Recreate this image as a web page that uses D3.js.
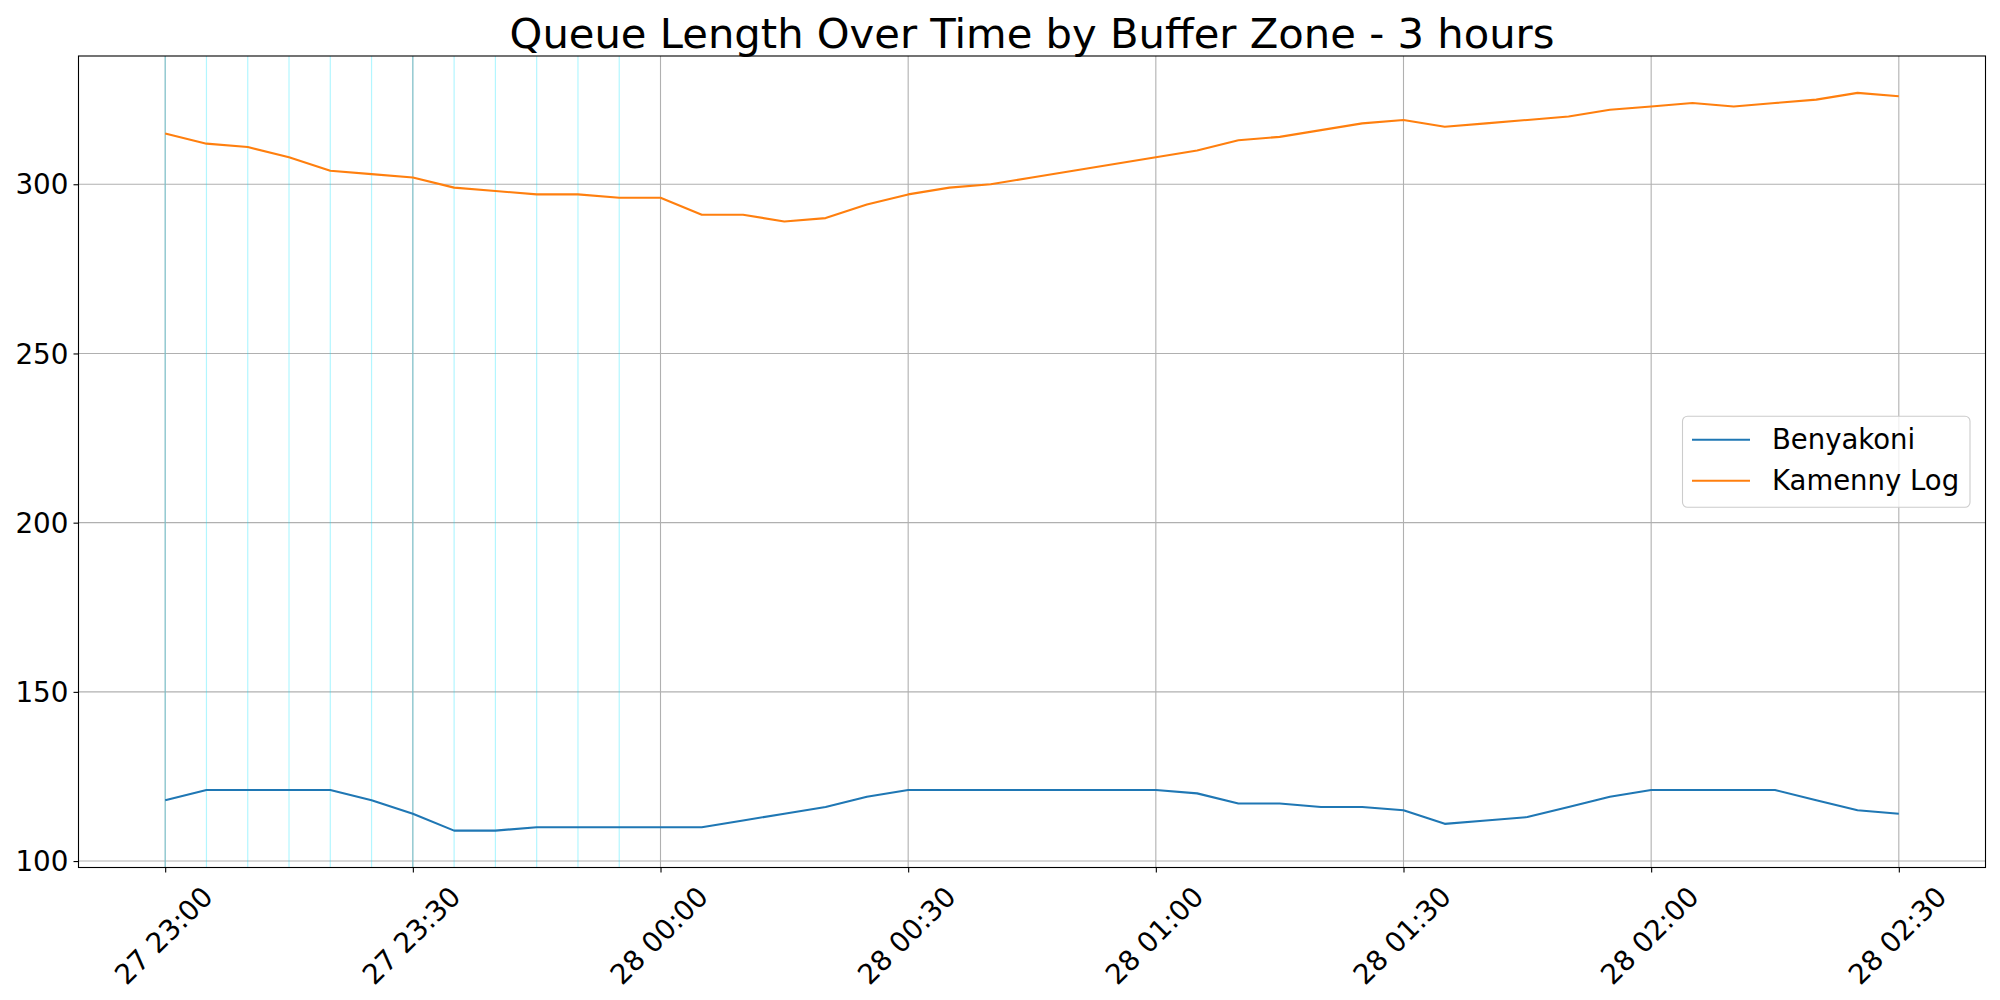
<!DOCTYPE html>
<html>
<head>
<meta charset="utf-8">
<script src="https://cdn.jsdelivr.net/npm/d3@7"></script>
<style>
  body { margin: 0; background: white; }
  text { font-family: "DejaVu Sans", sans-serif; }
</style>
</head>
<body>
<div id="chart"></div>
<script>
// sample times, every 5 minutes
var times = [
    "2024-01-27 23:00", "2024-01-27 23:05", "2024-01-27 23:10", "2024-01-27 23:15",
    "2024-01-27 23:20", "2024-01-27 23:25", "2024-01-27 23:30", "2024-01-27 23:35",
    "2024-01-27 23:40", "2024-01-27 23:45", "2024-01-27 23:50", "2024-01-27 23:55",
    "2024-01-28 00:00", "2024-01-28 00:05", "2024-01-28 00:10", "2024-01-28 00:15",
    "2024-01-28 00:20", "2024-01-28 00:25", "2024-01-28 00:30", "2024-01-28 00:35",
    "2024-01-28 00:40", "2024-01-28 00:45", "2024-01-28 00:50", "2024-01-28 00:55",
    "2024-01-28 01:00", "2024-01-28 01:05", "2024-01-28 01:10", "2024-01-28 01:15",
    "2024-01-28 01:20", "2024-01-28 01:25", "2024-01-28 01:30", "2024-01-28 01:35",
    "2024-01-28 01:40", "2024-01-28 01:45", "2024-01-28 01:50", "2024-01-28 01:55",
    "2024-01-28 02:00", "2024-01-28 02:05", "2024-01-28 02:10", "2024-01-28 02:15",
    "2024-01-28 02:20", "2024-01-28 02:25", "2024-01-28 02:30"
];

var benyakoni = [
    118, 121, 121, 121, 121, 118, 114, 109, 109, 110, 110, 110,
    110, 110, 112, 114, 116, 119, 121, 121, 121, 121, 121, 121,
    121, 120, 117, 117, 116, 116, 115, 111, 112, 113, 116, 119,
    121, 121, 121, 121, 118, 115, 114
];

var kamennyLog = [
    315, 312, 311, 308, 304, 303, 302, 299, 298, 297, 297, 296,
    296, 291, 291, 289, 290, 294, 297, 299, 300, 302, 304, 306,
    308, 310, 313, 314, 316, 318, 319, 317, 318, 319, 320, 322,
    323, 324, 323, 324, 325, 327, 326
];

// vertical marker lines (first hour, every 5 minutes)
var markerTimes = [
    "2024-01-27 23:00", "2024-01-27 23:05", "2024-01-27 23:10", "2024-01-27 23:15",
    "2024-01-27 23:20", "2024-01-27 23:25", "2024-01-27 23:30", "2024-01-27 23:35",
    "2024-01-27 23:40", "2024-01-27 23:45", "2024-01-27 23:50", "2024-01-27 23:55"
];

var xTicks = [
    "2024-01-27 23:00", "2024-01-27 23:30", "2024-01-28 00:00", "2024-01-28 00:30",
    "2024-01-28 01:00", "2024-01-28 01:30", "2024-01-28 02:00", "2024-01-28 02:30"
];
var yTicks = [100, 150, 200, 250, 300];

var seriesNames = ["Benyakoni", "Kamenny Log"];
var seriesColors = ["#1f77b4", "#ff7f0e"];
var title = "Queue Length Over Time by Buffer Zone - 3 hours";

var parseTime = d3.timeParse("%Y-%m-%d %H:%M");
var fmt = d3.timeFormat("%d %H:%M");

var margin = {top: 56, right: 14.5, bottom: 132.5, left: 78.5};
var width = 2000 - margin.left - margin.right;
var height = 1000 - margin.top - margin.bottom;

var svg = d3.select("#chart")
    .append("svg")
        .attr("width", 2000)
        .attr("height", 1000)
    .append("g")
    .attr("transform", "translate(" + margin.left + "," + margin.top + ")");

var dates = times.map(parseTime);
var allValues = benyakoni.concat(kamennyLog);

// matplotlib-like 5% margins
var t0 = d3.min(dates), t1 = d3.max(dates);
var padT = (t1 - t0) * 0.05;
var vMin = d3.min(allValues), vMax = d3.max(allValues);
var padV = (vMax - vMin) * 0.05;

var x = d3.scaleTime()
    .domain([new Date(+t0 - padT), new Date(+t1 + padT)])
    .range([0, width]);
var y = d3.scaleLinear()
    .domain([vMin - padV, vMax + padV])
    .range([height, 0]);

// grid
svg.append("g")
    .selectAll("line")
    .data(yTicks)
    .enter()
    .append("line")
    .attr("x1", 0)
    .attr("x2", width)
    .attr("y1", function(d) { return y(d); })
    .attr("y2", function(d) { return y(d); })
    .style("stroke", "#b0b0b0")
    .style("stroke-width", 1.1);

svg.append("g")
    .selectAll("line")
    .data(xTicks.map(parseTime))
    .enter()
    .append("line")
    .attr("x1", function(d) { return x(d); })
    .attr("x2", function(d) { return x(d); })
    .attr("y1", 0)
    .attr("y2", height)
    .style("stroke", "#b0b0b0")
    .style("stroke-width", 1.1);

// cyan markers
svg.append("g")
    .selectAll("line")
    .data(markerTimes.map(parseTime))
    .enter()
    .append("line")
    .attr("x1", function(d) { return x(d); })
    .attr("x2", function(d) { return x(d); })
    .attr("y1", 0)
    .attr("y2", height)
    .style("stroke", "#00e0ff")
    .style("stroke-opacity", 0.3)
    .style("stroke-width", 1.2);

// series lines
var series = [benyakoni, kamennyLog];
var line = d3.line()
    .x(function(d, i) { return x(dates[i]); })
    .y(function(d) { return y(d); });

svg.selectAll(".series")
    .data(series)
    .enter()
    .append("path")
    .attr("class", "series")
    .attr("d", line)
    .style("fill", "none")
    .style("stroke", function(d, i) { return seriesColors[i]; })
    .style("stroke-width", 2.1)
    .style("stroke-linejoin", "round");

// y axis
var yAxis = svg.append("g")
    .call(d3.axisLeft(y).tickValues(yTicks).tickSize(5).tickPadding(5));
yAxis.select(".domain").remove();
yAxis.selectAll("line").style("stroke-width", 1.1);
yAxis.selectAll("text")
    .style("font-size", "27.8px")
    .style("font-family", "DejaVu Sans")
    .attr("dy", "0.35em");

// x axis
var xAxis = svg.append("g")
    .attr("transform", "translate(0," + height + ")")
    .call(d3.axisBottom(x).tickValues(xTicks.map(parseTime)).tickSize(5).tickFormat(fmt));
xAxis.select(".domain").remove();
xAxis.selectAll("line").style("stroke-width", 1.1);
xAxis.selectAll("text")
    .style("font-size", "27.8px")
    .style("font-family", "DejaVu Sans")
    .style("text-anchor", "middle")
    .attr("y", 0)
    .attr("dy", "0.35em")
    .attr("transform", "translate(-2,68) rotate(-45)");

// frame
svg.append("rect")
    .attr("x", 0)
    .attr("y", 0)
    .attr("width", width)
    .attr("height", height)
    .style("fill", "none")
    .style("stroke", "black")
    .style("stroke-width", 1.1);

// title
svg.append("text")
    .attr("x", width / 2)
    .attr("y", -8.5)
    .style("text-anchor", "middle")
    .style("font-size", "41.7px")
    .text(title);

// legend
var legend = svg.append("g")
    .attr("transform", "translate(" + (width - 303) + "," + (height / 2 - 45.5) + ")");
legend.append("rect")
    .attr("width", 287.5)
    .attr("height", 91)
    .attr("rx", 5)
    .style("fill", "white")
    .style("fill-opacity", 0.8)
    .style("stroke", "#cccccc")
    .style("stroke-width", 1.1);

seriesNames.forEach(function(name, i) {
    legend.append("line")
        .attr("x1", 9.5)
        .attr("x2", 67.5)
        .attr("y1", 23.5 + i * 41)
        .attr("y2", 23.5 + i * 41)
        .style("stroke", seriesColors[i])
        .style("stroke-width", 2.1);
    legend.append("text")
        .attr("x", 89.5)
        .attr("y", 23.5 + i * 41)
        .attr("dy", "0.35em")
        .style("font-size", "27.5px")
        .text(name);
});
</script>
</body>
</html>
